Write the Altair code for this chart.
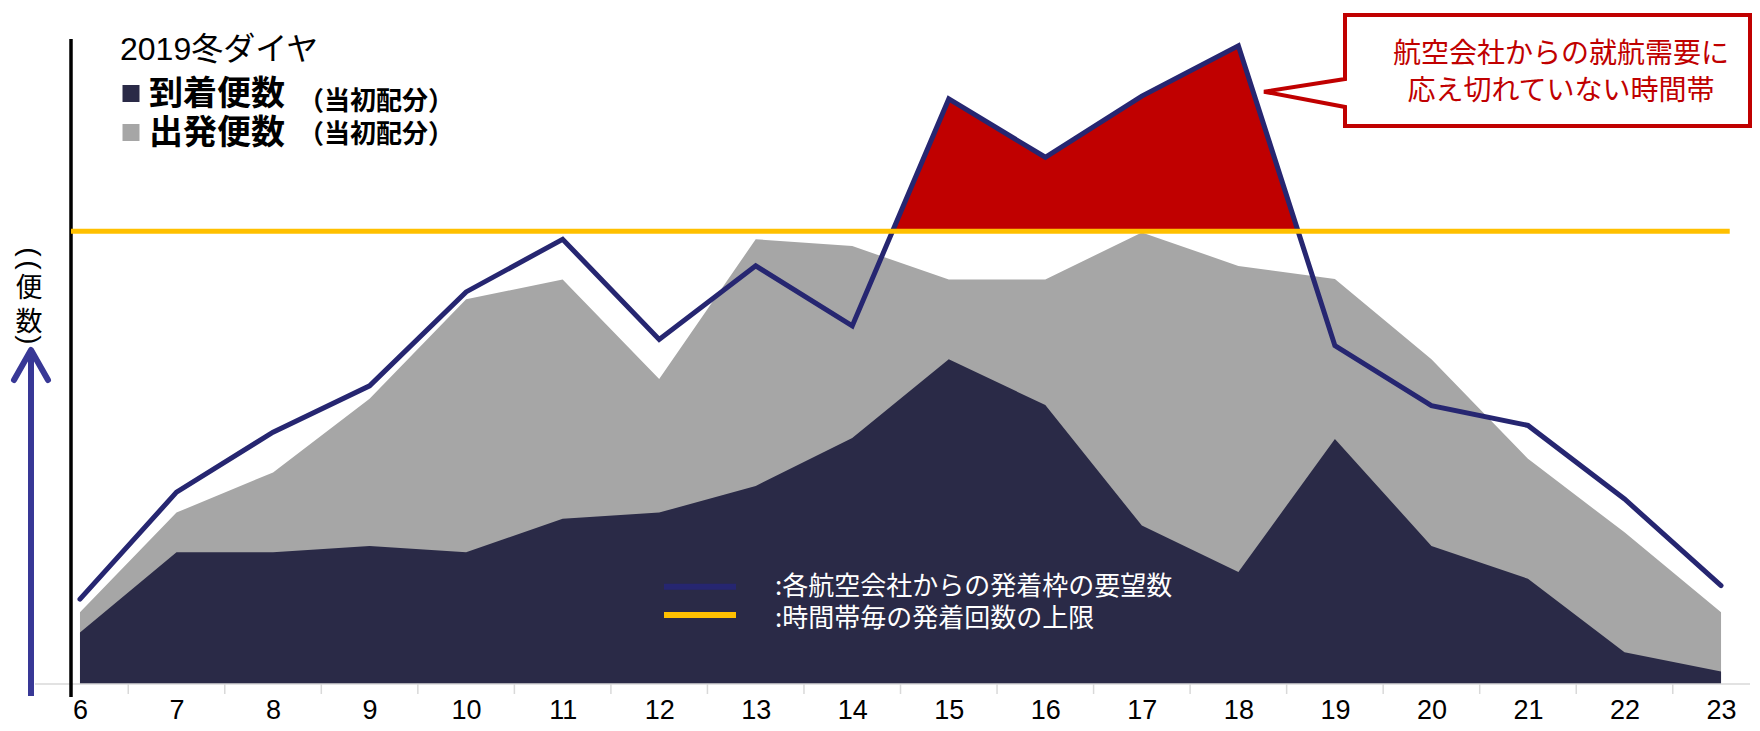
import altair as alt
import pandas as pd

# ---------------- data ----------------
hours = list(range(6, 24))
arrivals = [9.1, 23.3, 23.3, 24.4, 23.3, 29.2, 30.3, 35.0, 43.5, 57.4,
            49.3, 28.0, 19.8, 43.3, 24.4, 18.6, 5.6, 2.2]
departures = [3.6, 7.0, 14.1, 26.0, 44.7, 42.3, 23.6, 43.6, 33.9, 14.1,
              22.2, 51.8, 54.1, 28.3, 33.0, 21.2, 21.2, 10.5]
requests = [15.0, 33.9, 44.5, 52.7, 69.3, 78.6, 60.9, 73.9, 63.3, 103.4,
            93.1, 103.9, 112.8, 59.8, 49.2, 45.7, 32.7, 17.4]
cap = 80
cap_end = 23.09

title_text = "2019冬ダイヤ"
legend_arr = "到着便数"
legend_dep = "出発便数"
legend_note = "（当初配分）"
line_label_req = ":各航空会社からの発着枠の要望数"
line_label_cap = ":時間帯毎の発着回数の上限"
callout_lines = ["航空会社からの就航需要に", "応え切れていない時間帯"]
ylabel_chars = ["(", "(", "便", "数", ")"]

# ---------------- styles ----------------
NAVY = "#2a2a47"
GRAY = "#a6a6a6"
LINE = "#262671"
GOLD = "#ffc000"
RED = "#c00000"
ARROW = "#383896"
AXGRAY = "#d9d9d9"
JP = "Noto Sans CJK JP"
LAT = "Liberation Sans, Noto Sans CJK JP"

W, H = 1679, 645
XD = [5.907, 23.30]
YD = [0, 114]


def hx(px):
    return XD[0] + px / W * (XD[1] - XD[0])


def vy(py):
    return YD[1] - py / H * (YD[1] - YD[0])


df = pd.DataFrame({"hour": hours, "arr": arrivals, "dep": departures, "req": requests})
df["total"] = df["arr"] + df["dep"]

# excess (demand above cap) polygon, with crossing points found from the data
ex_h, ex_v = [], []
for i in range(len(hours)):
    if requests[i] > cap:
        ex_h.append(hours[i]); ex_v.append(requests[i])
    if i < len(hours) - 1:
        d0, d1 = requests[i], requests[i + 1]
        if (d0 - cap) * (d1 - cap) < 0:
            t = (cap - d0) / (d1 - d0)
            ex_h.append(hours[i] + t); ex_v.append(cap)
dex = pd.DataFrame({"hour": ex_h, "v": ex_v, "c": [cap] * len(ex_h)})

xs = alt.Scale(domain=XD, nice=False, zero=False)
ys = alt.Scale(domain=YD, nice=False, zero=False)
xaxis = alt.Axis(values=hours, ticks=False, domain=False, grid=False, title=None,
                 labelFont="Liberation Sans", labelFontSize=27, labelColor="black",
                 labelPadding=13, labelFlush=False, labelOverlap=False)
X = alt.X("hour:Q", scale=xs, axis=xaxis)


def Y(f):
    return alt.Y(f, scale=ys, axis=None)


layers = []
layers.append(alt.Chart(df).mark_area(color=GRAY, opacity=1).encode(x=X, y=Y("total:Q")))
layers.append(alt.Chart(df).mark_area(color=NAVY, opacity=1).encode(x=X, y=Y("arr:Q")))
layers.append(alt.Chart(dex).mark_area(color=RED, opacity=1).encode(x=X, y=Y("v:Q"), y2="c:Q"))

# x baseline and tick marks between hours
ticks = pd.DataFrame({"hour": [h + 0.5 for h in hours[:-1]]})
layers.append(alt.Chart(ticks).mark_rule(color=AXGRAY, strokeWidth=1.5).encode(
    x=X, y=alt.value(H), y2=alt.value(H + 10)))
layers.append(alt.Chart(pd.DataFrame({"a": [0]})).mark_rule(color=AXGRAY, strokeWidth=1.5).encode(
    x=alt.value(-36), x2=alt.value(W), y=alt.value(H)))
# black vertical axis line
layers.append(alt.Chart(pd.DataFrame({"a": [0]})).mark_rule(color="black", strokeWidth=3.5).encode(
    x=alt.value(0), y=alt.value(0), y2=alt.value(H + 13)))

# demand line
layers.append(alt.Chart(df).mark_line(color=LINE, strokeWidth=5, strokeCap="round",
                                      strokeJoin="miter").encode(x=X, y=Y("req:Q")))
# cap line
dcap = pd.DataFrame({"hour": [XD[0]], "hour2": [cap_end], "v": [cap]})
layers.append(alt.Chart(dcap).mark_rule(color=GOLD, strokeWidth=5).encode(
    x=X, x2="hour2:Q", y=Y("v:Q")))

# callout box with pointer (pixel offsets in the plot converted to data units)
cpx = [1476, 1679, 1679, 1274, 1274, 1193, 1274, 1274, 1476]
cpy = [-24, -24, 87, 87, 68, 52.7, 40, -24, -24]
dcall = pd.DataFrame({"hour": [hx(p) for p in cpx], "v": [vy(p) for p in cpy],
                      "i": list(range(len(cpx)))})
layers.append(alt.Chart(dcall).mark_line(color=RED, strokeWidth=4, strokeJoin="miter").encode(
    x=X, y=Y("v:Q"), order="i:Q"))


def text(t, px, py, size, color="black", font=JP, weight="normal", align="left",
         baseline="middle", angle=0):
    return alt.Chart(pd.DataFrame({"t": [t]})).mark_text(
        font=font, fontSize=size, color=color, fontWeight=weight, align=align,
        baseline=baseline, angle=angle).encode(
        x=alt.value(px), y=alt.value(py), text="t:N")


layers.append(text(callout_lines[0], 1490, 15.5, 28, color=RED, align="center"))
layers.append(text(callout_lines[1], 1490, 53, 28, color=RED, align="center"))

# top-left legend
layers.append(text(title_text, 49, 21, 32, font=LAT, baseline="alphabetic"))
for sy, col in [(54.5, NAVY), (93.5, GRAY)]:
    layers.append(alt.Chart(pd.DataFrame({"a": [0]})).mark_square(
        size=289, color=col, opacity=1).encode(x=alt.value(60), y=alt.value(sy)))
layers.append(text(legend_arr, 78, 56, 34, weight="bold"))
layers.append(text(legend_note, 227, 63, 26, weight="bold"))
layers.append(text(legend_dep, 78, 95, 34, weight="bold"))
layers.append(text(legend_note, 227, 96, 26, weight="bold"))

# bottom legend
for ly, col in [(547.7, LINE), (576, GOLD)]:
    layers.append(alt.Chart(pd.DataFrame({"a": [0]})).mark_rule(color=col, strokeWidth=6).encode(
        x=alt.value(593), x2=alt.value(665), y=alt.value(ly)))
layers.append(text(line_label_req, 704, 548, 26, color="white"))
layers.append(text(line_label_cap, 704, 580, 26, color="white"))

# vertical y label
ypos = [213, 226, 250, 284, 301]
for ch, py in zip(ylabel_chars, ypos):
    if ch in "()":
        layers.append(text(ch, -42, py, 28, font="Liberation Sans", align="center", angle=90))
    else:
        layers.append(text(ch, -42, py, 27, align="center"))

# up arrow
darr = pd.DataFrame({"hour": [hx(-40), hx(-40)], "v": [vy(H + 12), vy(313)], "i": [0, 1]})
layers.append(alt.Chart(darr).mark_line(color=ARROW, strokeWidth=6).encode(
    x=X, y=Y("v:Q"), order="i:Q"))
dhead = pd.DataFrame({"hour": [hx(-57), hx(-40), hx(-23)], "v": [vy(341), vy(311), vy(341)],
                      "i": [0, 1, 2]})
layers.append(alt.Chart(dhead).mark_line(color=ARROW, strokeWidth=6, strokeCap="round",
                                         strokeJoin="round").encode(
    x=X, y=Y("v:Q"), order="i:Q"))

chart = alt.layer(*layers).properties(
    width=W, height=H,
    autosize=alt.AutoSizeParams(type="none"),
    padding={"left": 63, "top": 31, "right": 2, "bottom": 39},
    background="white",
).configure_view(stroke=None)

chart.save("out.html", embed_options={"renderer": "svg", "actions": False})
